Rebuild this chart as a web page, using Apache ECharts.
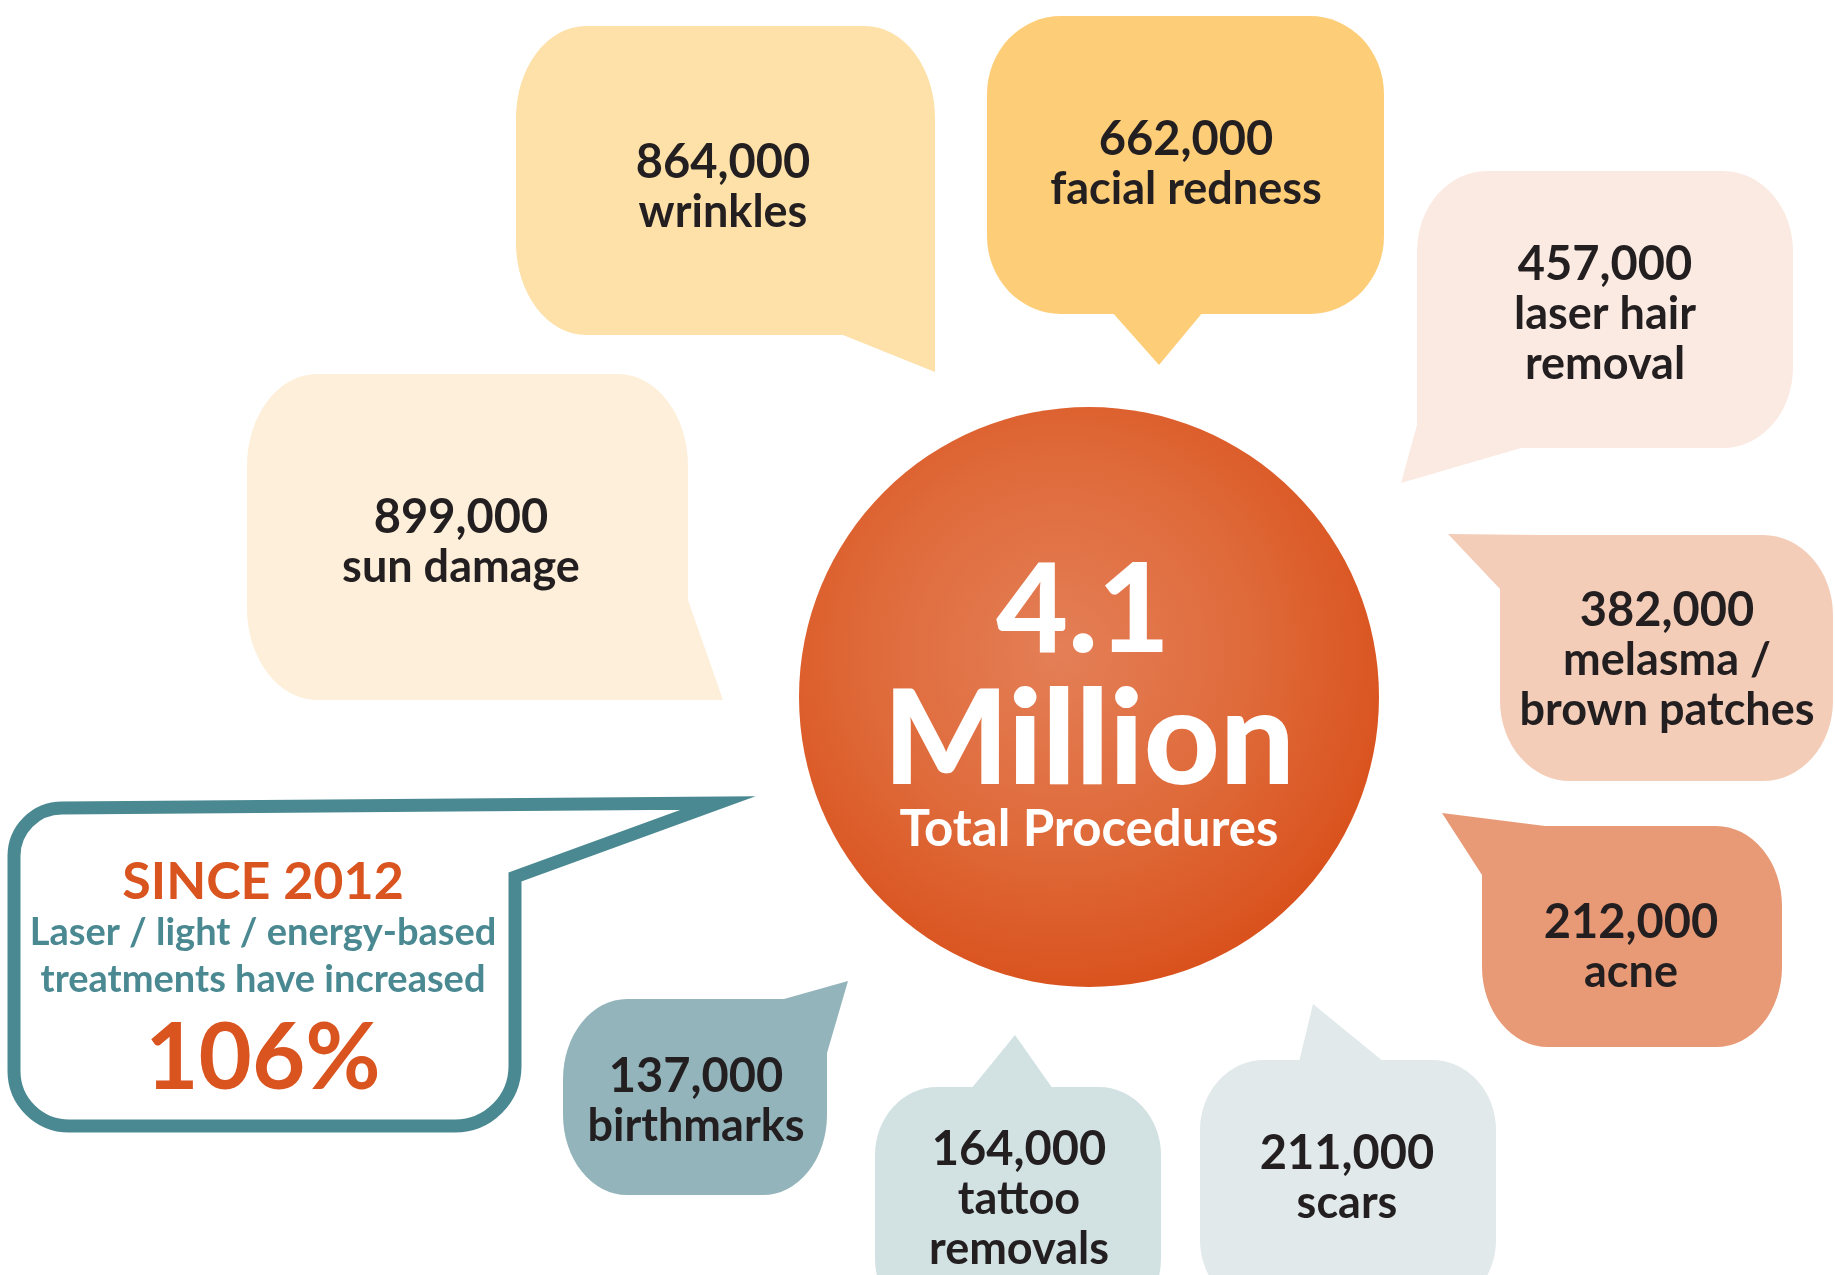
<!DOCTYPE html>
<html><head><meta charset="utf-8">
<script src="https://cdn.jsdelivr.net/npm/echarts@6/dist/echarts.min.js"></script>
<style>html,body{margin:0;padding:0;background:#fff}#chart{width:1835px;height:1275px}</style>
</head><body><div id="chart"></div>
<script>
// ---- data ----
const categories = ['wrinkles', 'facial redness', 'laser hair\nremoval', 'sun damage', 'melasma /\nbrown patches', 'acne', 'scars', 'tattoo\nremovals', 'birthmarks'];
const values = [864000, 662000, 457000, 899000, 382000, 212000, 211000, 164000, 137000];
const totalLabel = '4.1';
const totalUnit = 'Million';
const totalCaption = 'Total Procedures';
const growthTitle = 'SINCE 2012';
const growthLines = ['Laser / light / energy-based', 'treatments have increased'];
const growthValue = '106%';

// ---- styles / layout (not data) ----
const bubbleColors = ['#FDE1A9', '#FECD78', '#FBEAE2', '#FDEFD9', '#F4CDB9', '#E89A77', '#E1E9EA', '#D2E1E2', '#93B4BA'];
// x, y, w, h, rx, ry, squareCorner (0 tl,1 tr,2 br,3 bl), tail polygon, textX, firstBaseline
const layout = [
  [516, 26, 419, 309, 70, 92, 2, [[843,335],[935,372],[935,250],[843,250]], 723, 177],
  [987, 16, 397, 298, 74, 78, -1, [[1112,312],[1159,365],[1203,312]], 1186, 154],
  [1417, 171, 376, 277, 70, 80, 3, [[1417,425],[1401,483],[1521,448],[1417,448]], 1605, 279],
  [247, 374, 441, 326, 70, 92, 2, [[688,600],[723,700],[640,700]], 461, 532],
  [1500, 535, 333, 246, 70, 80, 0, [[1448,534],[1500,589],[1540,535]], 1667, 625],
  [1482, 826, 300, 221, 66, 80, 0, [[1442,813],[1482,875],[1545,826]], 1631, 937],
  [1200, 1060, 296, 250, 64, 70, -1, [[1299,1062],[1313,1004],[1384,1062]], 1347, 1168],
  [875, 1087, 286, 240, 62, 68, -1, [[971,1089],[1015,1035],[1053,1089]], 1019, 1164],
  [563, 999, 264, 196, 64, 80, 1, [[784,999],[848,981],[827,1053],[827,999]], 696, 1091]
];
const FONT = 'Lato';
const INK = '#231F20';
const TEAL = '#4A8991';
const ORANGE = '#DA5420';

function rrPath(x, y, w, h, rx, ry, sq) {
  const c = [0,1,2,3].map(i => i === sq ? [0,0] : [rx,ry]);
  let p = 'M' + (x + c[0][0]) + ',' + y;
  p += ' L' + (x + w - c[1][0]) + ',' + y;
  if (c[1][0]) p += ' A' + c[1][0] + ',' + c[1][1] + ' 0 0 1 ' + (x + w) + ',' + (y + c[1][1]);
  p += ' L' + (x + w) + ',' + (y + h - c[2][1]);
  if (c[2][0]) p += ' A' + c[2][0] + ',' + c[2][1] + ' 0 0 1 ' + (x + w - c[2][0]) + ',' + (y + h);
  p += ' L' + (x + c[3][0]) + ',' + (y + h);
  if (c[3][0]) p += ' A' + c[3][0] + ',' + c[3][1] + ' 0 0 1 ' + x + ',' + (y + h - c[3][1]);
  p += ' L' + x + ',' + (y + c[0][1]);
  if (c[0][0]) p += ' A' + c[0][0] + ',' + c[0][1] + ' 0 0 1 ' + (x + c[0][0]) + ',' + y;
  return p + ' Z';
}
function textEl(str, x, baseline, size, color, weight) {
  return {
    type: 'text',
    style: {
      text: str, x: x, y: baseline - size * 0.31,
      fill: color, fontFamily: FONT, fontSize: size, fontWeight: weight || 'bold',
      align: 'center', verticalAlign: 'middle'
    }
  };
}

const chart = echarts.init(document.getElementById('chart'), null, { renderer: 'canvas' });

const L = 14, R = 515, T = 808, B = 1126;
const tealPath = 'M62,' + T + ' L718,803 L' + R + ',877 L' + R + ',' + (B - 60) +
  ' A60,60 0 0 1 ' + (R - 60) + ',' + B + ' L' + (L + 55) + ',' + B +
  ' A55,55 0 0 1 ' + L + ',' + (B - 55) + ' L' + L + ',' + (T + 48) +
  ' A48,48 0 0 1 ' + (L + 48) + ',' + T + ' Z';

chart.setOption({
  animation: false,
  series: [{
    type: 'custom',
    coordinateSystem: 'none',
    silent: true,
    data: values,
    renderItem: function (params, api) {
      const i = params.dataIndex;
      const v = api.value(0);
      const g = layout[i];
      const lines = [echarts.format.addCommas(v)].concat(categories[i].split('\n'));
      const children = [{
        type: 'path',
        shape: { pathData: rrPath(g[0], g[1], g[2], g[3], g[4], g[5], g[6]) },
        style: { fill: bubbleColors[i] }
      }, {
        type: 'polygon',
        shape: { points: g[7] },
        style: { fill: bubbleColors[i] }
      }];
      lines.forEach((s, k) => children.push(textEl(s, g[8], g[9] + k * 49.5, k === 0 ? 47 : 45, INK, 'bold')));
      return { type: 'group', children: children };
    }
  }, {
    type: 'custom',
    coordinateSystem: 'none',
    silent: true,
    data: [0],
    renderItem: function () {
      return { type: 'group', children: [
        { type: 'path', shape: { pathData: tealPath },
          style: { fill: '#FFFFFF', stroke: TEAL, lineWidth: 13, lineJoin: 'miter', miterLimit: 10 } },
        textEl(growthTitle, 263, 898, 52, ORANGE, 'bold'),
        textEl(growthLines[0], 263, 945, 38, TEAL, 'bold'),
        textEl(growthLines[1], 263, 992, 38, TEAL, 'bold'),
        textEl(growthValue, 263, 1088, 92, ORANGE, 'bold')
      ] };
    }
  }],
  graphic: [
    {
      type: 'circle', shape: { cx: 1089, cy: 697, r: 290 }, z: 10,
      style: { fill: new echarts.graphic.RadialGradient(0.45, 0.42, 0.6, [
        { offset: 0, color: '#E47F57' }, { offset: 0.55, color: '#DF6A3A' }, { offset: 1, color: '#D9511C' }]) }
    },
    Object.assign(textEl(totalLabel, 1083, 650, 124, '#FFFFFF', 900), { z: 11 }),
    Object.assign(textEl(totalUnit, 1089, 782, 132, '#FFFFFF', 900), { z: 11 }),
    Object.assign(textEl(totalCaption, 1089, 845, 51, '#FFFFFF', 'bold'), { z: 11 })
  ]
});
</script></body></html>
